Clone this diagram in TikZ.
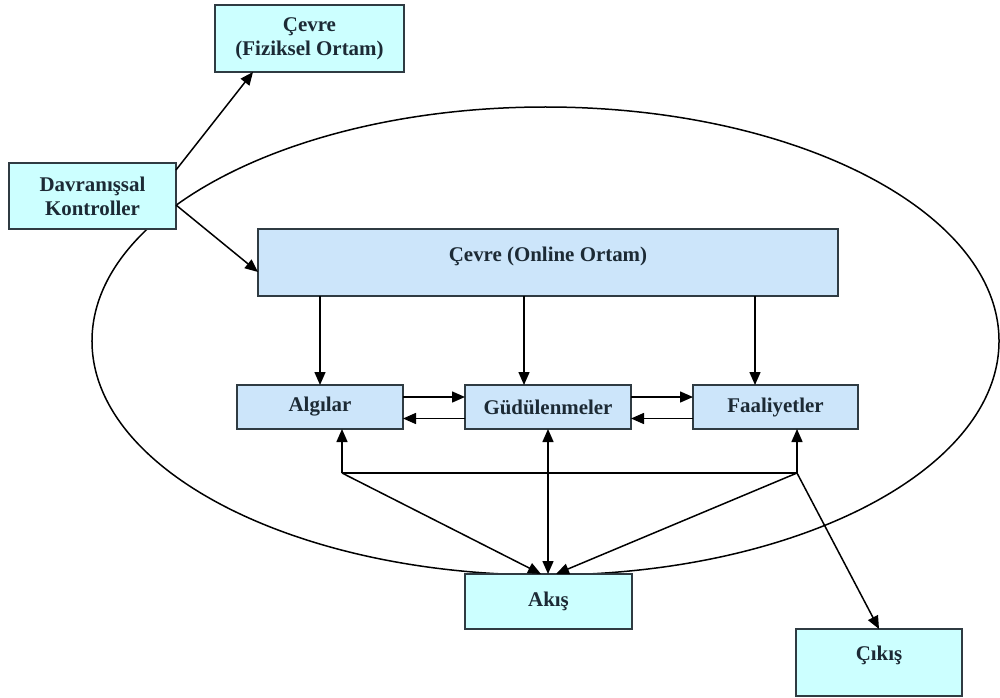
\documentclass[tikz,border=0pt]{standalone}
\usepackage{fontspec}
\setmainfont{Liberation Serif}
\usetikzlibrary{arrows.meta}
\definecolor{boxcyan}{HTML}{CCFFFF}
\definecolor{boxblue}{HTML}{CCE5FA}
\definecolor{edge}{HTML}{2F3B42}
\definecolor{ink}{HTML}{1C2A35}
\begin{document}
\begin{tikzpicture}[x=0.2mm,y=-0.2mm,
  box/.style={draw=edge,line width=0.4mm,inner sep=0pt,outer sep=0pt,align=center,
    text=ink,font=\fontsize{11.9}{13.8}\selectfont\bfseries},
  cyanbox/.style={box,fill=boxcyan},
  bluebox/.style={box,fill=boxblue},
  conn/.style={draw=black,line width=0.3mm},
  arr/.style={conn,-{Triangle[length=2.6mm,width=2.2mm]}},
  darr/.style={conn,{Triangle[length=2.6mm,width=2.2mm]}-{Triangle[length=2.6mm,width=2.2mm]}}]
\useasboundingbox (0,0) rectangle (1000,698);

% enclosing system boundary
\draw[line width=0.3mm] (545.5,341) ellipse [x radius=90.7mm, y radius=46.8mm];

% boxes
\node[cyanbox,minimum width=37.8mm,minimum height=13.4mm] (fiz) at (309.5,38.5) {Çevre\\(Fiziksel Ortam)};
\node[cyanbox,minimum width=33.4mm,minimum height=13.2mm] (dav) at (92.5,196) {Davranışsal\\Kontroller};
\node[bluebox,minimum width=116mm,minimum height=13.4mm,text height=3mm,text depth=3.6mm] (onl) at (548,262.5) {Çevre (Online Ortam)};
\node[bluebox,minimum width=33.2mm,minimum height=8.8mm] (alg) at (320,407) {Algılar};
\node[bluebox,minimum width=33.2mm,minimum height=8.8mm] (gud) at (548,407) {Güdülenmeler};
\node[bluebox,minimum width=33mm,minimum height=8.8mm] (faa) at (775.5,407) {Faaliyetler};
\node[cyanbox,minimum width=33.4mm,minimum height=11mm] (aki) at (548.5,601.5) {Akış};
\node[cyanbox,minimum width=33.2mm,minimum height=13.4mm,text height=3mm,text depth=3.8mm] (cik) at (879,662.5) {Çıkış};

% junction points below the middle row
\coordinate (jl) at (342,473);
\coordinate (jr) at (797,473);

% behavioural controls
\draw[arr] ([yshift=5.2mm]dav.east) -- ([xshift=-11.3mm]fiz.south);
\draw[arr] ([yshift=-1.8mm]dav.east) -- ([yshift=-1.9mm]onl.west);

% online environment feeds the middle row
\draw[arr] (alg.north |- onl.south) -- (alg.north);
\draw[arr] ([xshift=-4.8mm]gud.north |- onl.south) -- ([xshift=-4.8mm]gud.north);
\draw[arr] ([xshift=-4.1mm]faa.north |- onl.south) -- ([xshift=-4.1mm]faa.north);

% links between the middle boxes
\draw[arr] ([yshift=2mm]alg.east) -- ([yshift=2mm]gud.west);
\draw[arr] ([yshift=-2.3mm]gud.west) -- ([yshift=-2.3mm]alg.east);
\draw[arr] ([yshift=2mm]gud.east) -- ([yshift=2mm]faa.west);
\draw[arr] ([yshift=-2.3mm]faa.west) -- ([yshift=-2.3mm]gud.east);

% feedback network
\draw[conn] (jl) -- (jr);
\draw[arr] (jl) -- (jl |- alg.south);
\draw[arr] (jr) -- (jr |- faa.south);
\draw[darr] (gud.south) -- (gud.south |- aki.north);
\draw[arr] (jl) -- ([xshift=-1.5mm]aki.north);
\draw[arr] (jr) -- ([xshift=1.5mm]aki.north);
\draw[arr] (jr) -- (cik.north);
\end{tikzpicture}
\end{document}
